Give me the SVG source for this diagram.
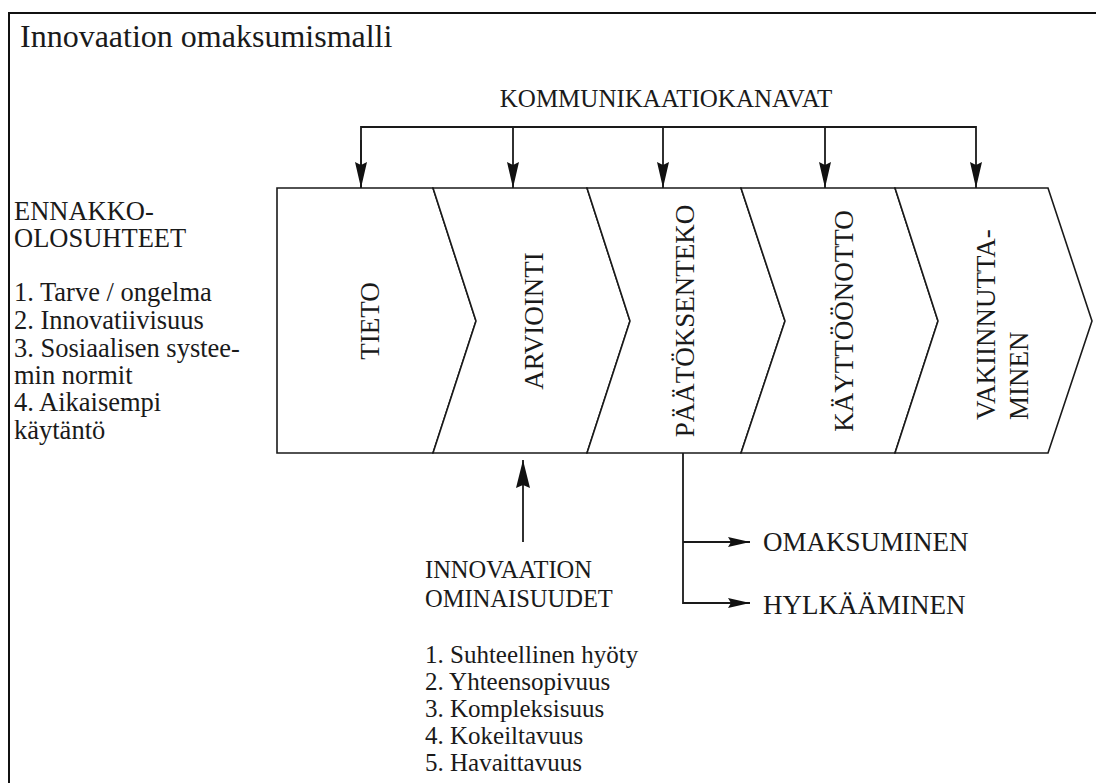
<svg xmlns="http://www.w3.org/2000/svg" width="1096" height="783" viewBox="0 0 1096 783">
  <style>
    .t { font-family: "Liberation Serif", "Times New Roman", serif; fill: #1a1a1a; }
    .stage { fill: #fff; stroke: #1a1a1a; stroke-width: 1.6; stroke-linejoin: miter; }
    .ln { fill: none; stroke: #1a1a1a; stroke-width: 1.8; }
  </style>
  <defs>
    <marker id="ahDown" markerUnits="userSpaceOnUse" viewBox="0 0 26 12" refX="26" refY="6" markerWidth="26" markerHeight="12" orient="auto">
      <path d="M0,0 L26,6 L0,12 L3,6 z" fill="#111"/>
    </marker>
    <marker id="ahUp" markerUnits="userSpaceOnUse" viewBox="0 0 28 14" refX="28" refY="7" markerWidth="28" markerHeight="14" orient="auto">
      <path d="M0,0 L28,7 L0,14 L3,7 z" fill="#111"/>
    </marker>
    <marker id="ahRight" markerUnits="userSpaceOnUse" viewBox="0 0 22 10" refX="22" refY="5" markerWidth="22" markerHeight="10" orient="auto">
      <path d="M0,0 L22,5 L0,10 L3,5 z" fill="#111"/>
    </marker>
  </defs>
  <rect width="1096" height="783" fill="#fff"/>
  <rect id="frame" x="9" y="13" width="1200" height="900" fill="none" stroke="#111" stroke-width="2"/>

  <g id="title"><text class="t" x="20" y="47" font-size="32">Innovaation omaksumismalli</text></g>

  <g id="kommunikaatiokanavat">
    <text class="t" x="666" y="107" font-size="25" text-anchor="middle">KOMMUNIKAATIOKANAVAT</text>
  </g>

  <g id="ennakko-olosuhteet">
    <text class="t" x="14" font-size="26.5">
      <tspan x="14" y="220">ENNAKKO-</tspan>
      <tspan x="14" y="247">OLOSUHTEET</tspan>
      <tspan x="14" y="301">1. Tarve / ongelma</tspan>
      <tspan x="14" y="329">2. Innovatiivisuus</tspan>
      <tspan x="14" y="357">3. Sosiaalisen systee-</tspan>
      <tspan x="14" y="384">min normit</tspan>
      <tspan x="14" y="411">4. Aikaisempi</tspan>
      <tspan x="14" y="439">käytäntö</tspan>
    </text>
  </g>

  <g id="stage-tieto">
    <polygon class="stage" points="277,188 433,188 476,321 433,453 277,453"/>
    <text class="t" font-size="27" text-anchor="middle" transform="translate(379,321) rotate(-90)">TIETO</text>
  </g>
  <g id="stage-arviointi">
    <polygon class="stage" points="433,188 587,188 630,321 587,453 433,453 476,321"/>
    <text class="t" font-size="27" text-anchor="middle" transform="translate(543,321) rotate(-90)">ARVIOINTI</text>
  </g>
  <g id="stage-paatoksenteko">
    <polygon class="stage" points="587,188 741,188 785,321 741,453 587,453 630,321"/>
    <text class="t" font-size="27" text-anchor="middle" transform="translate(694,321) rotate(-90)">PÄÄTÖKSENTEKO</text>
  </g>
  <g id="stage-kayttoonotto">
    <polygon class="stage" points="741,188 895,188 938,321 895,453 741,453 785,321"/>
    <text class="t" font-size="27" text-anchor="middle" transform="translate(853,321) rotate(-90)">KÄYTTÖÖNOTTO</text>
  </g>
  <g id="stage-vakiinnuttaminen">
    <polygon class="stage" points="895,188 1048,188 1092,321 1048,453 895,453 938,321"/>
    <text class="t" font-size="27" transform="translate(995,420) rotate(-90)">VAKIINNUTTA-</text>
    <text class="t" font-size="27" transform="translate(1028,420) rotate(-90)">MINEN</text>
  </g>

  <g id="innovaation-ominaisuudet">
    <text class="t" font-size="24.5">
      <tspan x="425" y="578">INNOVAATION</tspan>
      <tspan x="425" y="607">OMINAISUUDET</tspan>
    </text>
    <text class="t" font-size="25">
      <tspan x="425" y="663">1. Suhteellinen hyöty</tspan>
      <tspan x="425" y="690">2. Yhteensopivuus</tspan>
      <tspan x="425" y="717">3. Kompleksisuus</tspan>
      <tspan x="425" y="744">4. Kokeiltavuus</tspan>
      <tspan x="425" y="771">5. Havaittavuus</tspan>
    </text>
  </g>

  <g id="omaksuminen"><text class="t" x="763" y="551" font-size="27">OMAKSUMINEN</text></g>
  <g id="hylkaaminen"><text class="t" x="763" y="614" font-size="27">HYLKÄÄMINEN</text></g>

  <g id="connectors">
    <polyline class="ln" points="361,188 361,127 976,127 976,188" marker-end="url(#ahDown)"/>
    <line class="ln" x1="361" y1="140" x2="361" y2="188" marker-end="url(#ahDown)"/>
    <line class="ln" x1="513" y1="127" x2="513" y2="188" marker-end="url(#ahDown)"/>
    <line class="ln" x1="663" y1="127" x2="663" y2="188" marker-end="url(#ahDown)"/>
    <line class="ln" x1="825" y1="127" x2="825" y2="188" marker-end="url(#ahDown)"/>
    <line class="ln" x1="523" y1="542" x2="523" y2="460" marker-end="url(#ahUp)"/>
    <polyline class="ln" points="683,453 683,603 750,603" marker-end="url(#ahRight)"/>
    <line class="ln" x1="683" y1="542" x2="750" y2="542" marker-end="url(#ahRight)"/>
  </g>
</svg>
